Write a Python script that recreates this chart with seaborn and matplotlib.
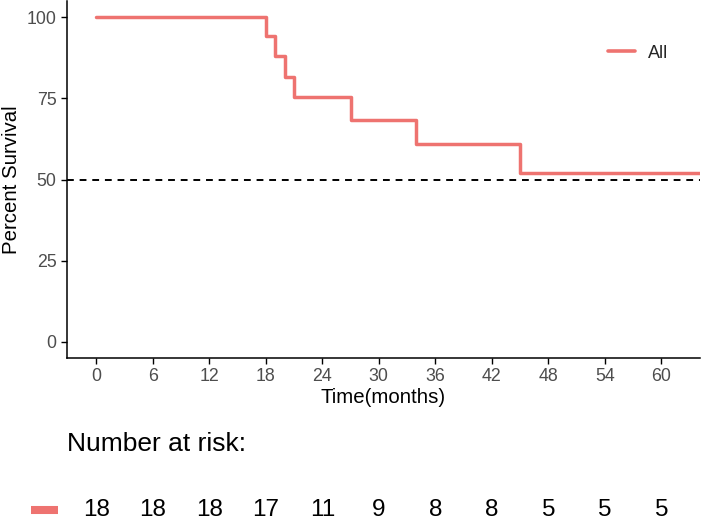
import numpy as np
import pandas as pd
import matplotlib
matplotlib.use("Agg")
import matplotlib.pyplot as plt
import seaborn as sns

# Kaplan-Meier estimate (months, percent surviving)
time_months = [0, 18, 19, 20, 21, 27, 34, 45, 64.5]
survival_pct = [100, 94.1, 88.2, 81.6, 75.3, 68.3, 60.8, 52.0, 52.0]
group_label = "All"

# number at risk table
risk_times = [0, 6, 12, 18, 24, 30, 36, 42, 48, 54, 60]
risk_counts = [18, 18, 18, 17, 11, 9, 8, 8, 5, 5, 5]

x_ticks = [0, 6, 12, 18, 24, 30, 36, 42, 48, 54, 60]
y_ticks = [0, 25, 50, 75, 100]

line_color = "#EE7370"

sns.set_theme(style="ticks")
plt.rcParams["font.family"] = ["Liberation Sans", "DejaVu Sans"]

W, H = 702, 521
fig = plt.figure(figsize=(W / 100, H / 100), dpi=100)

# main survival panel
ax = fig.add_axes([67 / W, 1 - 358 / H, 633 / W, 357 / H])
df = pd.DataFrame({"time": time_months, "surv": survival_pct, "group": group_label})
sns.lineplot(data=df, x="time", y="surv", hue="group", palette=[line_color],
             drawstyle="steps-post", lw=2.5, ax=ax, estimator=None)
ax.axhline(50, color="black", lw=1.4, ls=(0, (3.5, 3)), zorder=1)

ax.set_xlim(-3.1, 64.1)
ax.set_ylim(-5, 105)
ax.set_xticks(x_ticks)
ax.set_yticks(y_ticks)
ax.tick_params(axis="both", labelsize=12.8, labelcolor="#4D4D4D", length=4,
               width=1.0, color="black", pad=3.5)
for side in ["top", "right"]:
    ax.spines[side].set_visible(False)
for side in ["left", "bottom"]:
    ax.spines[side].set_linewidth(1.1)
    ax.spines[side].set_color("black")
ax.set_xlabel("Time(months)", fontsize=14.7, color="black", labelpad=2)
ax.set_ylabel("Percent Survival", fontsize=14.7, color="black", labelpad=4)

leg = ax.legend(loc="center left", bbox_to_anchor=(608 / W, 1 - 53 / H),
                bbox_transform=fig.transFigure, frameon=False, fontsize=13,
                handlelength=1.5, handletextpad=0.7, borderpad=0, borderaxespad=0)
for h in leg.get_lines():
    h.set_linewidth(2.6)

# number-at-risk table
rax = fig.add_axes([67 / W, 0, 633 / W, 100 / H], sharex=ax)
rax.set_ylim(0, 1)
rax.axis("off")
rax.text(0, 0.77, "Number at risk:", transform=rax.transAxes, fontsize=19,
         ha="left", va="center", color="black")
for t, n in zip(risk_times, risk_counts):
    rax.text(t, 0.11, str(n), fontsize=17.5, ha="center", va="center", color="black")
rax.plot([-0.057, -0.014], [0.11, 0.11], transform=rax.transAxes, color=line_color,
         lw=5.8, solid_capstyle="butt", clip_on=False)

fig.savefig("out.png", dpi=100)
